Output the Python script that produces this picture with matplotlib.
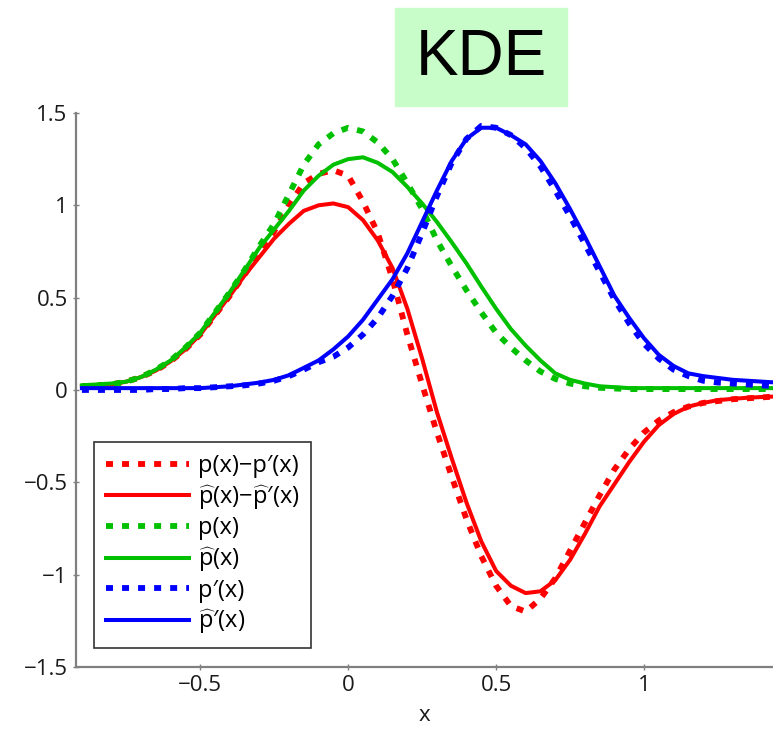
import numpy as np
import matplotlib
matplotlib.use('Agg')
import matplotlib.pyplot as plt
from matplotlib.patches import Rectangle

plt.rcParams['font.family'] = ['Open Sans', 'DejaVu Sans']
plt.rcParams['mathtext.fontset'] = 'custom'
plt.rcParams['mathtext.rm'] = 'Open Sans'
plt.rcParams['mathtext.it'] = 'Open Sans'

# x grid (values read every 0.05 from the picture)
x = np.round(np.arange(-0.9, 1.4501, 0.05), 2)

p_diff = [0.02, 0.025, 0.03, 0.045, 0.07, 0.105, 0.155, 0.22, 0.30, 0.405,
          0.51, 0.625, 0.745, 0.86, 1.0, 1.12, 1.17, 1.19, 1.16, 1.02,
          0.85, 0.60, 0.30, 0.03, -0.23, -0.47, -0.70, -0.90, -1.06, -1.17,
          -1.20, -1.13, -1.02, -0.87, -0.72, -0.57, -0.43, -0.32, -0.23, -0.165,
          -0.12, -0.09, -0.07, -0.06, -0.05, -0.045, -0.04, -0.035]
phat_diff = [0.02, 0.025, 0.03, 0.045, 0.07, 0.105, 0.155, 0.22, 0.30, 0.405,
             0.51, 0.62, 0.72, 0.82, 0.90, 0.97, 1.0, 1.01, 0.99, 0.92,
             0.81, 0.66, 0.44, 0.17, -0.12, -0.37, -0.61, -0.82, -0.98, -1.06,
             -1.10, -1.09, -1.03, -0.92, -0.78, -0.63, -0.51, -0.39, -0.28, -0.19,
             -0.13, -0.09, -0.07, -0.055, -0.048, -0.042, -0.038, -0.035]
p = [0.02, 0.025, 0.03, 0.045, 0.07, 0.11, 0.16, 0.23, 0.31, 0.42,
     0.53, 0.65, 0.78, 0.90, 1.06, 1.22, 1.33, 1.39, 1.42, 1.40,
     1.34, 1.25, 1.12, 0.98, 0.81, 0.67, 0.54, 0.42, 0.31, 0.23,
     0.16, 0.10, 0.06, 0.035, 0.02, 0.012, 0.008, 0.005, 0.005, 0.005,
     0.005, 0.005, 0.005, 0.005, 0.005, 0.005, 0.005, 0.005]
phat = [0.025, 0.03, 0.035, 0.045, 0.07, 0.11, 0.16, 0.23, 0.31, 0.42,
        0.53, 0.65, 0.77, 0.87, 0.97, 1.08, 1.16, 1.22, 1.25, 1.26,
        1.23, 1.18, 1.10, 1.01, 0.91, 0.80, 0.685, 0.56, 0.44, 0.33,
        0.24, 0.16, 0.09, 0.055, 0.035, 0.02, 0.015, 0.01, 0.01, 0.01,
        0.01, 0.01, 0.01, 0.01, 0.01, 0.01, 0.01, 0.01]
pp = [0.0, 0.0, 0.0, 0.0, 0.0, 0.005, 0.005, 0.01, 0.01, 0.015,
      0.02, 0.025, 0.035, 0.05, 0.075, 0.11, 0.15, 0.18, 0.23, 0.30,
      0.39, 0.51, 0.66, 0.85, 1.05, 1.23, 1.36, 1.43, 1.42, 1.38,
      1.31, 1.21, 1.08, 0.94, 0.79, 0.64, 0.49, 0.36, 0.25, 0.17,
      0.11, 0.075, 0.05, 0.04, 0.035, 0.03, 0.025, 0.02]
pphat = [0.01, 0.01, 0.01, 0.01, 0.01, 0.01, 0.01, 0.01, 0.01, 0.015,
         0.02, 0.03, 0.04, 0.055, 0.08, 0.12, 0.16, 0.22, 0.29, 0.38,
         0.49, 0.60, 0.74, 0.91, 1.08, 1.24, 1.36, 1.42, 1.42, 1.38,
         1.33, 1.24, 1.12, 0.98, 0.83, 0.67, 0.51, 0.39, 0.28, 0.19,
         0.13, 0.09, 0.075, 0.065, 0.055, 0.05, 0.045, 0.04]

labels = ['p(x)\u2212p\u2032(x)',
          r'$\widehat{\mathrm{p}}$(x)$-$$\widehat{\mathrm{p}}$' + '\u2032(x)',
          'p(x)',
          r'$\widehat{\mathrm{p}}$(x)',
          'p\u2032(x)',
          r'$\widehat{\mathrm{p}}$' + '\u2032(x)']

red = '#ff0000'
green = '#00c000'
blue = '#0000ff'
dot = (0, (1.2, 1.55))
lw_dot = 4.2
lw_sol = 2.9

fig = plt.figure(figsize=(7.73, 7.34), dpi=100)
ax = fig.add_axes([0.0983, 0.0913, 0.9017, 0.7548])

ax.plot(x, p_diff, color=red, lw=lw_dot, ls=dot, dash_capstyle='butt', label=labels[0])
ax.plot(x, phat_diff, color=red, lw=lw_sol, label=labels[1])
ax.plot(x, p, color=green, lw=lw_dot, ls=dot, dash_capstyle='butt', label=labels[2])
ax.plot(x, phat, color=green, lw=lw_sol, label=labels[3])
ax.plot(x, pp, color=blue, lw=lw_dot, ls=dot, dash_capstyle='butt', label=labels[4])
ax.plot(x, pphat, color=blue, lw=lw_sol, label=labels[5])

ax.set_xlim(-0.92, 1.436)
ax.set_ylim(-1.5, 1.5)
ax.set_xticks([-0.5, 0, 0.5, 1])
ax.set_xticklabels(['\u22120.5', '0', '0.5', '1'])
ax.set_yticks([1.5, 1, 0.5, 0, -0.5, -1, -1.5])
ax.set_yticklabels(['1.5', '1', '0.5', '0', '\u22120.5', '\u22121', '\u22121.5'])
ax.tick_params(labelsize=16, colors='#808080', labelcolor='#1a1a1a',
               direction='inout', length=5, width=1)
for s in ['top', 'right']:
    ax.spines[s].set_visible(False)
for s in ['left', 'bottom']:
    ax.spines[s].set_color('#808080')
    ax.spines[s].set_linewidth(1.6)
ax.set_xlabel('x', fontsize=16, color='#1a1a1a', labelpad=6)

leg = ax.legend(loc='lower left', bbox_to_anchor=(0.026, 0.034), borderaxespad=0,
                fontsize=17, handlelength=3.5, labelspacing=0.2, handletextpad=0.4,
                borderpad=0.5, fancybox=False, framealpha=1)
leg.get_frame().set_edgecolor('#333333')
leg.get_frame().set_linewidth(1.2)

# title box
fig.patches.append(Rectangle((395 / 773, 1 - 106 / 734), 172 / 773, 98 / 734,
                             transform=fig.transFigure, color='#c8fcc8', zorder=0))
fig.text(481 / 773, 1 - 58 / 734, 'KDE', fontsize=46, family='Liberation Sans',
         ha='center', va='center')

fig.savefig('out.png', dpi=100)
